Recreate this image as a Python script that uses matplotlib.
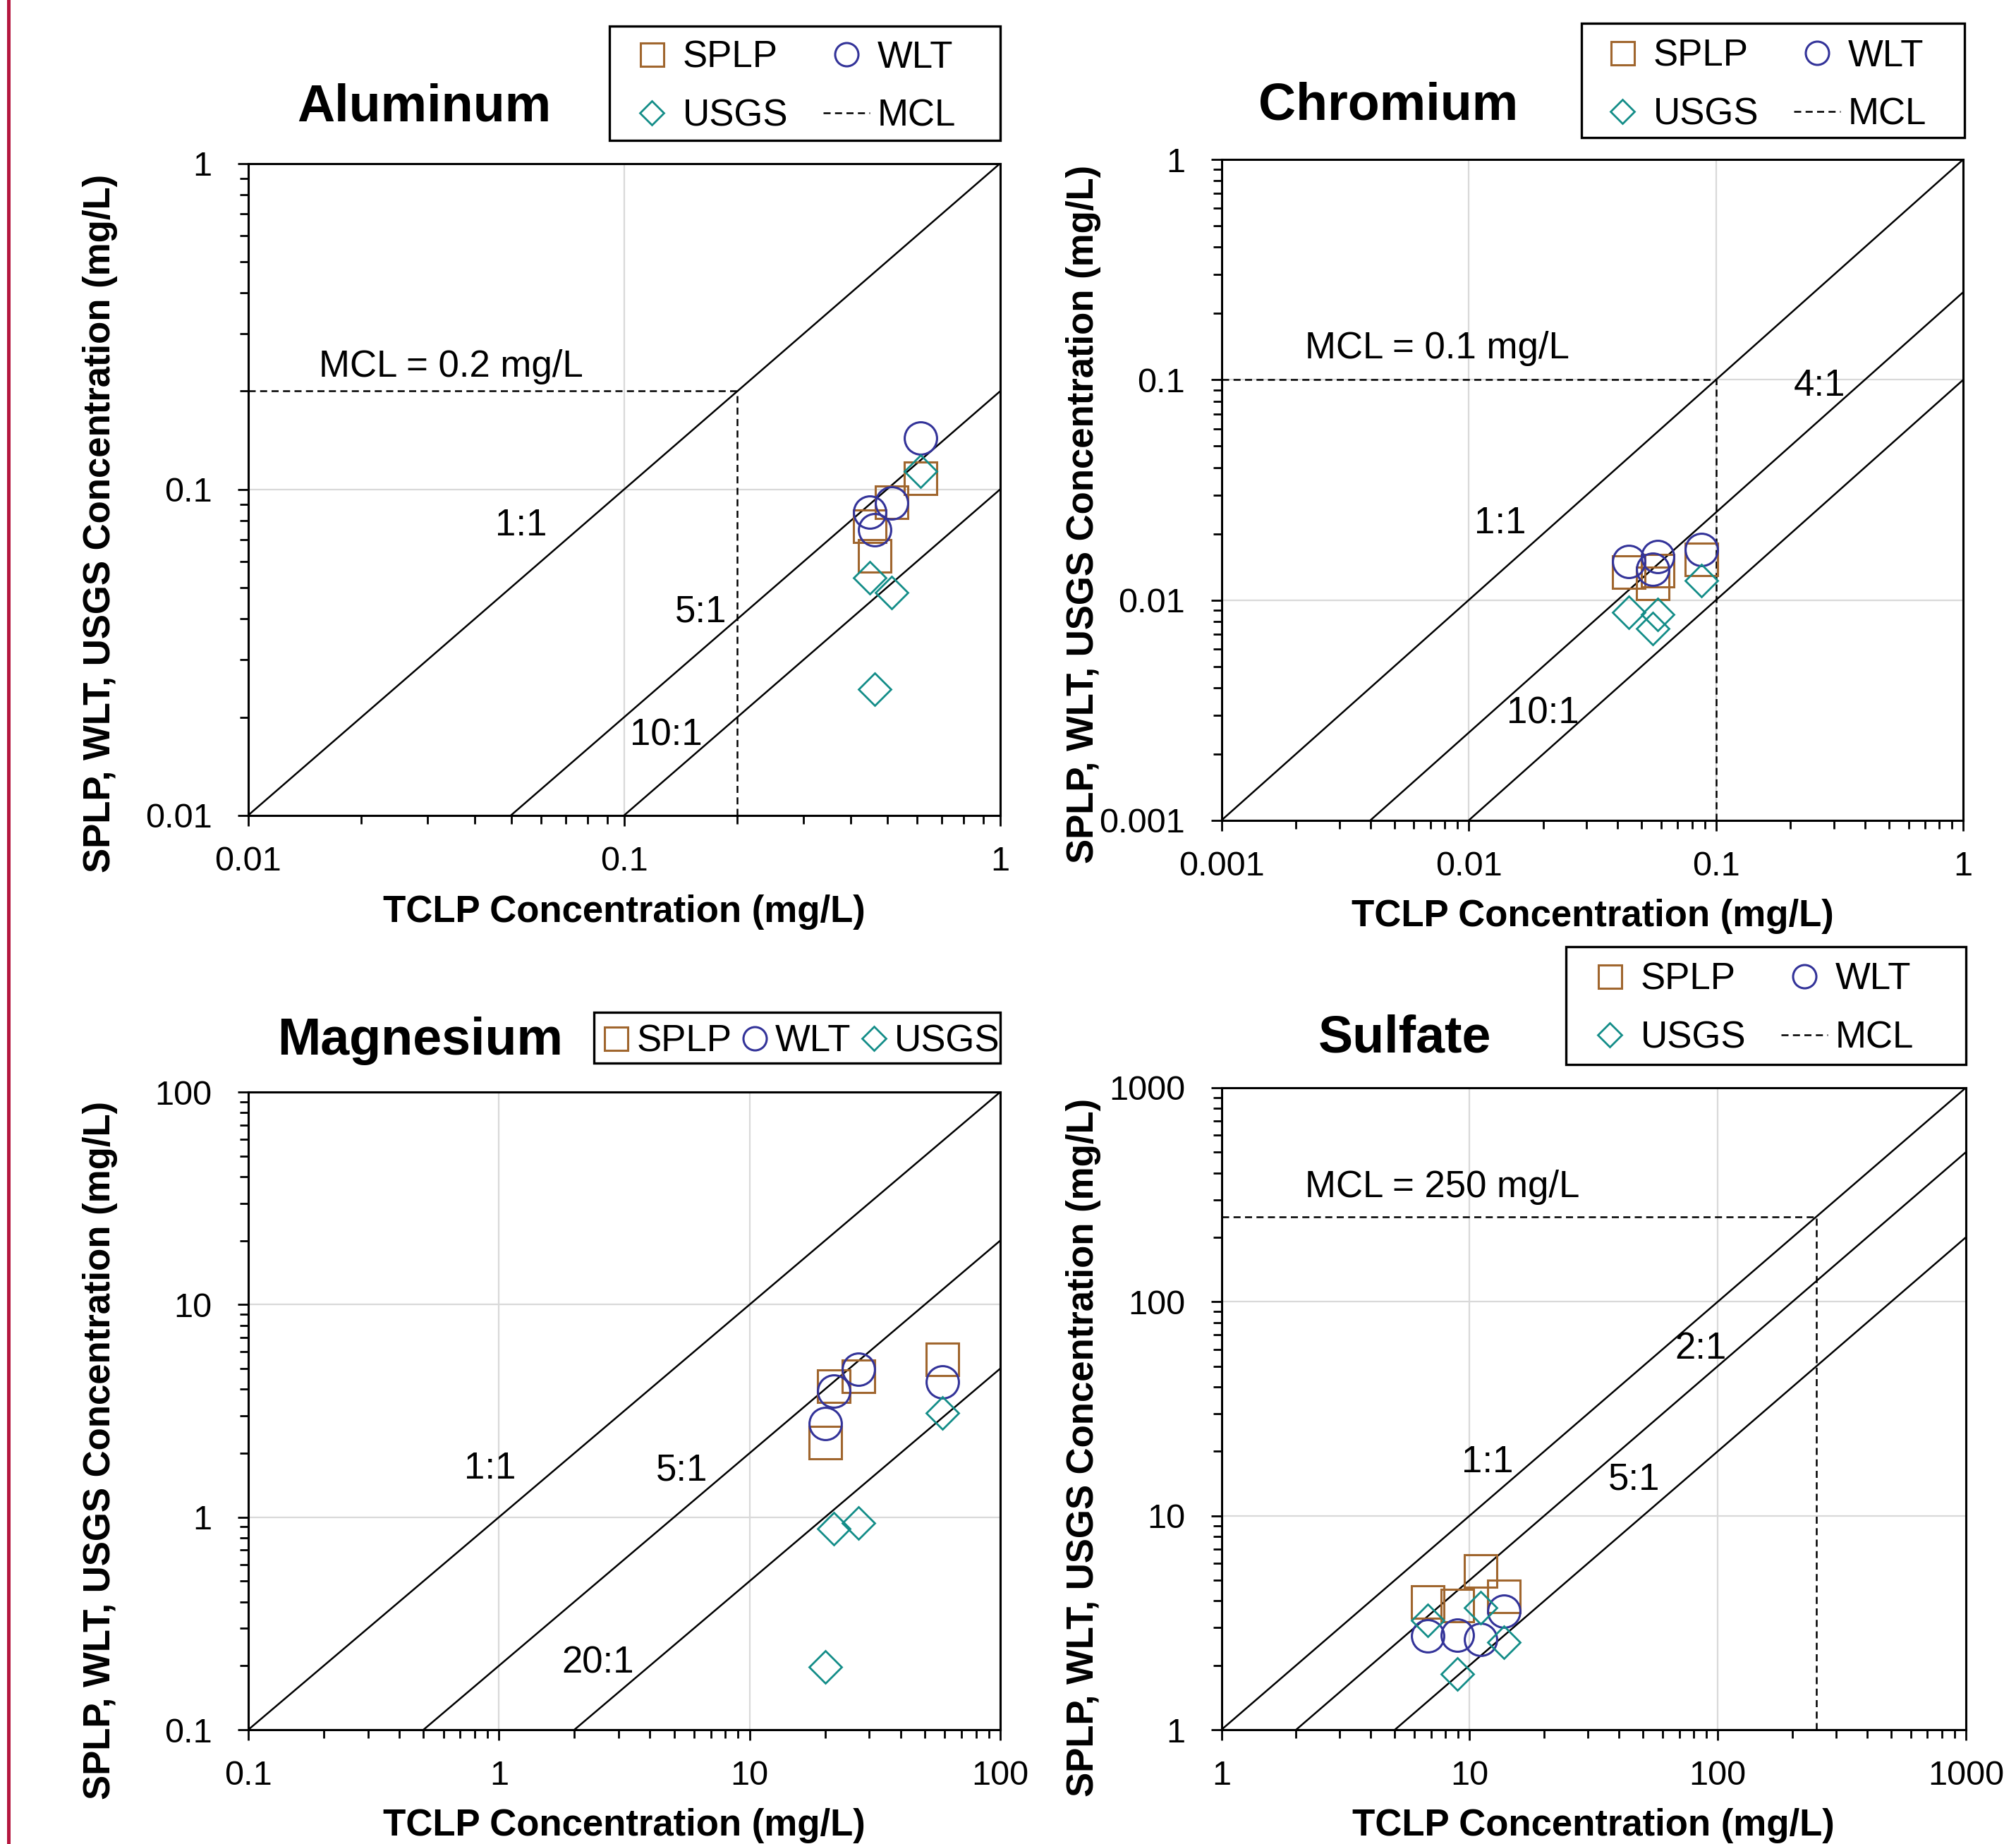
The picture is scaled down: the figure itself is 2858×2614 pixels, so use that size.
import numpy as np
import matplotlib.pyplot as plt
from matplotlib import font_manager
from matplotlib.lines import Line2D
from matplotlib.patches import Rectangle
from matplotlib.ticker import LogLocator, FuncFormatter, NullFormatter

plt.rcParams['font.family'] = ['Liberation Sans', 'DejaVu Sans']

# values, all in mg/L
al_tclp = [0.450, 0.464, 0.515, 0.615]
al_splp = [0.0770, 0.0625, 0.0912, 0.108]
al_wlt = [0.0852, 0.0751, 0.0908, 0.1436]
al_usgs = [0.0536, 0.0244, 0.0482, 0.1138]

cr_tclp = [0.0445, 0.0556, 0.0579, 0.0873]
cr_splp = [0.0134, 0.0119, 0.0136, 0.0153]
cr_wlt = [0.0150, 0.0138, 0.0157, 0.0170]
cr_usgs = [0.0088, 0.0074, 0.0086, 0.0123]

mg_tclp = [20.0, 21.7, 27.1, 58.7]
mg_splp = [2.24, 4.14, 4.60, 5.54]
mg_wlt = [2.75, 3.92, 4.97, 4.33]
mg_usgs = [0.197, 0.885, 0.941, 3.08]

so4_tclp = [6.77, 8.95, 11.05, 13.75]
so4_splp = [3.94, 3.81, 5.51, 4.19]
so4_wlt = [2.74, 2.76, 2.64, 3.59]
so4_usgs = [3.25, 1.815, 3.73, 2.57]

titles = ['Aluminum', 'Chromium', 'Magnesium', 'Sulfate']
limits = [(0.01, 1), (0.001, 1), (0.1, 100), (1, 1000)]
ratios = [[1, 5, 10], [1, 4, 10], [1, 5, 20], [1, 2, 5]]
mcl = [0.2, 0.1, None, 250]
mcl_text = ['MCL = 0.2 mg/L', 'MCL = 0.1 mg/L', None, 'MCL = 250 mg/L']

# where the ratio / MCL labels sit (data coords)
ratio_pos = [
    [(0.0531, 0.0772), (0.1597, 0.0420), (0.1292, 0.01756)],
    [(0.01343, 0.0223), (0.262, 0.0939), (0.01995, 0.00305)],
    [(0.920, 1.688), (5.35, 1.664), (2.483, 0.206)],
    [(11.8, 17.8), (85.6, 60.2), (46.1, 14.7)],
]
mcl_pos = [(0.0154, 0.238), (0.00218, 0.1387), None, (2.17, 344)]

# layout in pixels of the 2858 x 2614 image
W, H = 2858, 2614
ax_box = [(352, 231.5, 1418, 1155.6), (1731.6, 226, 2783.3, 1162.9),
          (352, 1548, 1418, 2452), (1731.6, 1542, 2786.9, 2452)]
title_xy = [(601.5, 172), (1968.5, 170), (596, 1495), (1992, 1491)]
ylab_xy = [(156, 742), (1550, 729), (156, 2056), (1550, 2052)]
xlab_base = [1306.7, 1313, 2602, 2602]
leg_xy = [(891, 56.5), (2267, 54.7), (853, 1451), (2249, 1363.4)]
leg_frame = [(864, 36.5, 1418, 198.7), (2242, 33, 2785, 195),
             (842, 1434.5, 1418, 1507), (2220, 1341.5, 2787, 1509)]

splp_col = '#A0662E'
wlt_col = '#333399'
usgs_col = '#138D88'

installed = {f.name for f in font_manager.fontManager.ttflist}
if 'Liberation Sans Narrow' in installed:
    ylab_font = dict(family='Liberation Sans Narrow', size=23, weight='bold')
else:
    ylab_font = dict(family='Liberation Sans', size=19, weight='bold')

fig = plt.figure(figsize=(W / 200, H / 200), dpi=200)

series = [
    (al_tclp, al_splp, al_wlt, al_usgs),
    (cr_tclp, cr_splp, cr_wlt, cr_usgs),
    (mg_tclp, mg_splp, mg_wlt, mg_usgs),
    (so4_tclp, so4_splp, so4_wlt, so4_usgs),
]

fmt = FuncFormatter(lambda v, _: f'{v:g}')

for i in range(4):
    l, t, r, b = ax_box[i]
    ax = fig.add_axes([l / W, 1 - b / H, (r - l) / W, (b - t) / H])
    lo, hi = limits[i]
    ax.set_xscale('log')
    ax.set_yscale('log')
    ax.set_xlim(lo, hi)
    ax.set_ylim(lo, hi)

    for rt, pos in zip(ratios[i], ratio_pos[i]):
        ax.plot([lo, hi], [lo / rt, hi / rt], color='k', lw=0.9, zorder=2)
        ax.text(pos[0], pos[1], f'{rt}:1', fontsize=19, ha='center', va='center')

    if mcl[i] is not None:
        m = mcl[i]
        ax.plot([lo, m], [m, m], color='k', lw=0.9, ls=(0, (4, 2.5)), label='MCL', zorder=2)
        ax.plot([m, m], [lo, m], color='k', lw=0.9, ls=(0, (4, 2.5)), zorder=2)
        ax.text(mcl_pos[i][0], mcl_pos[i][1], mcl_text[i], fontsize=19, ha='left', va='center')

    x, splp, wlt, usgs = series[i]
    ax.plot(x, splp, ls='none', marker='s', ms=16.5, mfc='none', mec=splp_col, mew=1.1,
            label='SPLP', zorder=3)
    ax.plot(x, wlt, ls='none', marker='o', ms=16.5, mfc='none', mec=wlt_col, mew=1.1,
            label='WLT', zorder=3)
    ax.plot(x, usgs, ls='none', marker='D', ms=11.7, mfc='none', mec=usgs_col, mew=1.0,
            label='USGS', zorder=3)

    ax.xaxis.set_major_locator(LogLocator(base=10, numticks=10))
    ax.yaxis.set_major_locator(LogLocator(base=10, numticks=10))
    ax.xaxis.set_minor_locator(LogLocator(base=10, subs=np.arange(2, 10), numticks=20))
    ax.yaxis.set_minor_locator(LogLocator(base=10, subs=np.arange(2, 10), numticks=20))
    ax.xaxis.set_major_formatter(fmt)
    ax.yaxis.set_major_formatter(fmt)
    ax.xaxis.set_minor_formatter(NullFormatter())
    ax.yaxis.set_minor_formatter(NullFormatter())

    ax.tick_params(which='major', direction='out', length=5.5, width=1.0, labelsize=17.5)
    ax.tick_params(which='minor', direction='out', length=4.2, width=1.0)
    ax.tick_params(axis='x', which='major', pad=10)
    ax.tick_params(axis='y', which='major', pad=13)
    ax.grid(True, which='major', color='#D9D9D9', lw=0.8)
    ax.set_axisbelow(True)
    for sp in ax.spines.values():
        sp.set_linewidth(1.1)
        sp.set_color('k')

    ax.set_xlabel('TCLP Concentration (mg/L)', fontsize=19, fontweight='bold')
    ax.xaxis.label.set_verticalalignment('baseline')
    ax.xaxis.set_label_coords((l + r) / 2 / W, 1 - xlab_base[i] / H, transform=fig.transFigure)

    ax.set_ylabel('SPLP, WLT, USGS Concentration (mg/L)', **ylab_font)
    ax.yaxis.label.set_verticalalignment('baseline')
    ax.yaxis.set_label_coords(ylab_xy[i][0] / W, 1 - ylab_xy[i][1] / H, transform=fig.transFigure)

    fig.text(title_xy[i][0] / W, 1 - title_xy[i][1] / H, titles[i], fontsize=26.5,
             fontweight='bold', ha='center', va='baseline')

    # legend content without its own frame; the box is drawn separately
    hd, lb = ax.get_legend_handles_labels()
    lookup = dict(zip(lb, hd))
    anchor = (leg_xy[i][0] / W, 1 - leg_xy[i][1] / H)
    if mcl[i] is not None:
        order = ['SPLP', 'USGS', 'WLT', 'MCL']
        ax.legend([lookup[k] for k in order], order, ncol=2, loc='upper left',
                  bbox_to_anchor=anchor, bbox_transform=fig.transFigure,
                  fontsize=19, markerscale=0.72, handlelength=1.25, handletextpad=0.2,
                  columnspacing=0.95, borderpad=0, labelspacing=0.63,
                  borderaxespad=0, frameon=False)
    else:
        order = ['SPLP', 'WLT', 'USGS']
        ax.legend([lookup[k] for k in order], order, ncol=3, loc='upper left',
                  bbox_to_anchor=anchor, bbox_transform=fig.transFigure,
                  fontsize=19, markerscale=0.72, handlelength=0.75, handletextpad=0.18,
                  columnspacing=0.24, borderpad=0, borderaxespad=0, frameon=False)
    fl, ft, fr, fb = leg_frame[i]
    fig.add_artist(Rectangle((fl / W, 1 - fb / H), (fr - fl) / W, (fb - ft) / H,
                             transform=fig.transFigure, fill=False, ec='k', lw=1.2))

fig.add_artist(Line2D([12 / W, 12 / W], [0, 1], transform=fig.transFigure,
                      color='#B5173F', lw=1.8))

fig.savefig('out.png', dpi=200)
